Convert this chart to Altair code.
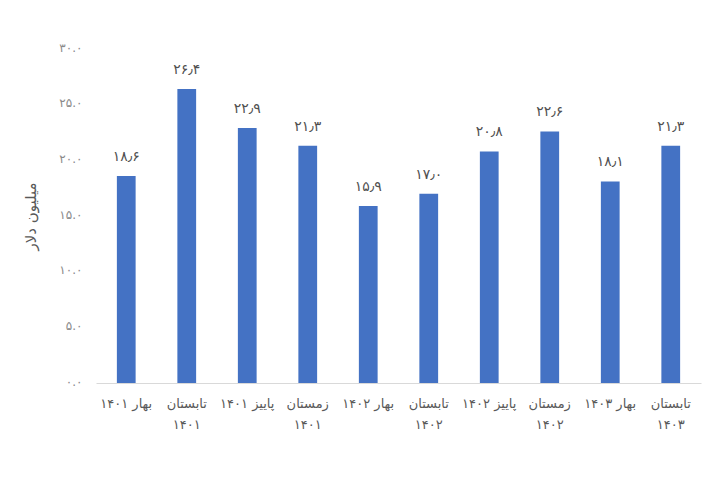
import altair as alt
import pandas as pd

categories = ["بهار ۱۴۰۱", "تابستان ۱۴۰۱", "پاییز ۱۴۰۱", "زمستان ۱۴۰۱", "بهار ۱۴۰۲",
              "تابستان ۱۴۰۲", "پاییز ۱۴۰۲", "زمستان ۱۴۰۲", "بهار ۱۴۰۳", "تابستان ۱۴۰۳"]
values = [18.6, 26.4, 22.9, 21.3, 15.9, 17.0, 20.8, 22.6, 18.1, 21.3]
value_labels = ["۱۸٫۶", "۲۶٫۴", "۲۲٫۹", "۲۱٫۳", "۱۵٫۹", "۱۷٫۰", "۲۰٫۸", "۲۲٫۶", "۱۸٫۱", "۲۱٫۳"]
y_ticks = [0, 5, 10, 15, 20, 25, 30]
y_tick_labels = ["۰.۰", "۵.۰", "۱۰.۰", "۱۵.۰", "۲۰.۰", "۲۵.۰", "۳۰.۰"]
y_title = "میلیون دلار"

df = pd.DataFrame({"cat": categories, "val": values, "lab": value_labels})

FONT = "DejaVu Sans"
lab_arr = "[" + ",".join("'" + s + "'" for s in y_tick_labels) + "]"

x = alt.X("cat:N", sort=categories, title=None,
          scale=alt.Scale(paddingInner=0.69, paddingOuter=0.345),
          axis=alt.Axis(labelAngle=0, ticks=False, domain=True, domainColor="#d9d9d9",
                        labelFont=FONT, labelFontSize=13, labelColor="#595959",
                        labelPadding=14, labelLineHeight=21, labelLimit=200,
                        labelExpr="length(datum.label) > 10 ? split(datum.label, ' ') : datum.label"))
y = alt.Y("val:Q", title=y_title,
          scale=alt.Scale(domain=[0, 30], nice=False),
          axis=alt.Axis(values=y_ticks, grid=False, domain=False, ticks=False,
                        labelExpr=lab_arr + "[round(datum.value/5)]",
                        labelFont=FONT, labelFontSize=12, labelColor="#8a8a8a",
                        labelPadding=14, labelBaseline="middle", labelOffset=-2,
                        titleFont=FONT, titleFontSize=15,
                        titleFontWeight="normal", titleColor="#595959", titlePadding=20))

bars = alt.Chart(df).mark_bar(color="#4472C4").encode(x=x, y=y)
text = alt.Chart(df).mark_text(baseline="bottom", dy=-12, font=FONT, fontSize=14,
                               color="#505050").encode(x=alt.X("cat:N", sort=categories),
                                                       y="val:Q", text="lab:N")

chart = (bars + text).properties(
    width=605, height=334,
    autosize=alt.AutoSizeParams(type="none"),
    padding={"left": 96, "top": 49, "right": 19, "bottom": 97},
    background="white",
).configure_view(stroke=None)

chart.save("out.html", embed_options={"renderer": "svg", "actions": False})
